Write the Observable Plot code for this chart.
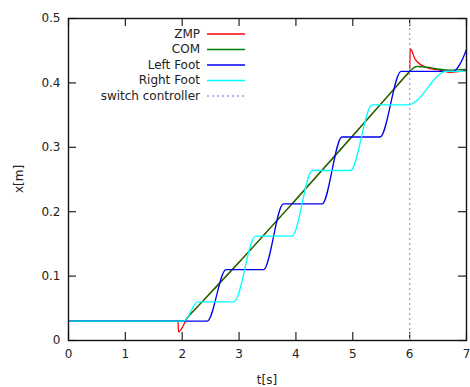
<!DOCTYPE html>
<html><head><meta charset="utf-8">
<script src="https://cdn.jsdelivr.net/npm/d3@7"></script>
<script src="https://cdn.jsdelivr.net/npm/@observablehq/plot@0.6"></script>
<style>body{margin:0;background:#fff}</style>
</head><body><div id="chart"></div>
<script>
// ---- data ----
const zmpT = [0, 1.925, 1.935, 2.1, 2.2, 3, 4, 5, 5.9, 6.0, 6.01, 6.1, 6.2, 6.35, 6.5, 6.7, 6.85, 7];
const zmpX = [0.03, 0.03, 0.0135, 0.0366, 0.046, 0.1215, 0.219, 0.318, 0.408, 0.418, 0.453, 0.436, 0.428, 0.4225, 0.4205, 0.4165, 0.4175, 0.42];
const comT = [0, 2.03, 2.1, 2.2, 3, 4, 5, 5.9, 6.0, 6.13, 6.3, 6.5, 6.7, 7];
const comX = [0.03, 0.03, 0.0366, 0.046, 0.1215, 0.219, 0.318, 0.408, 0.418, 0.4255, 0.4245, 0.4215, 0.4198, 0.421];
const leftT = [0, 2.44, 2.77, 3.43, 3.78, 4.46, 4.81, 5.48, 5.85, 6.77, 6.89, 7];
const leftX = [0.03, 0.03, 0.11, 0.11, 0.212, 0.212, 0.316, 0.316, 0.418, 0.418, 0.43, 0.452];
const rightT = [0, 2.03, 2.27, 2.91, 3.29, 3.93, 4.29, 4.96, 5.34, 5.98, 6.65, 7];
const rightX = [0.03, 0.03, 0.06, 0.06, 0.162, 0.162, 0.264, 0.264, 0.366, 0.366, 0.418, 0.418];
const switchT = [6];
const xTicks = [0, 1, 2, 3, 4, 5, 6, 7];
const yTicks = [0, 0.1, 0.2, 0.3, 0.4, 0.5];
const seriesNames = ["ZMP", "COM", "Left Foot", "Right Foot", "switch controller"];
const seriesColors = ["#ff0000", "#007a00", "#0000ee", "#00ffff", "#9a9aff"];

const toRows = (ts, xs) => ts.map((t, i) => ({t, x: xs[i]}));
const zmp = toRows(zmpT, zmpX), com = toRows(comT, comX);
const left = toRows(leftT, leftX), right = toRows(rightT, rightX);

const W = 470, H = 387, mL = 68, mR = 4, mT = 18, mB = 47;
const xTickLen = 7 * 8 / (W - mL - mR);   // 8px in data units
const yTickLen = 0.5 * 8 / (H - mT - mB);

const lineOpts = (c) => ({x: "t", y: "x", stroke: c, strokeWidth: 1.3, curve: "monotone-x"});

const svg = Plot.plot({
  width: W, height: H,
  marginLeft: mL, marginRight: mR, marginTop: mT, marginBottom: mB,
  style: {fontFamily: "DejaVu Sans", fontSize: "12px", background: "white", color: "#222"},
  x: {domain: [0, 7], ticks: xTicks, label: null},
  y: {domain: [0, 0.5], ticks: yTicks, label: null},
  marks: [
    Plot.axisX({ticks: xTicks, tickSize: 0, tickPadding: 9, tickFormat: d3.format("d"), fontSize: 12}),
    Plot.axisY({ticks: yTicks, tickSize: 0, tickPadding: 8, tickFormat: (d) => d === 0 ? "0" : d3.format(".1f")(d), fontSize: 12}),
    Plot.ruleX(xTicks, {x: d => d, y1: 0, y2: yTickLen, stroke: "#222", strokeWidth: 1.2}),
    Plot.ruleX(xTicks, {x: d => d, y1: 0.5 - yTickLen, y2: 0.5, stroke: "#222", strokeWidth: 1.2}),
    Plot.ruleY(yTicks, {y: d => d, x1: 0, x2: xTickLen, stroke: "#222", strokeWidth: 1.2}),
    Plot.ruleY(yTicks, {y: d => d, x1: 7 - xTickLen, x2: 7, stroke: "#222", strokeWidth: 1.2}),
    Plot.line(zmp, lineOpts(seriesColors[0])),
    Plot.line(com, lineOpts(seriesColors[1])),
    Plot.line(left, lineOpts(seriesColors[2])),
    Plot.line(right, lineOpts(seriesColors[3])),
    Plot.ruleX(switchT, {x: d => d, stroke: seriesColors[4], strokeWidth: 1.3, strokeDasharray: "2,3"}),
    Plot.frame({stroke: "#111", strokeWidth: 1.4})
  ]
});

// axis titles and gnuplot-style key
const s = d3.select(svg);
s.append("text").attr("x", (mL + W - mR) / 2).attr("y", 380).attr("text-anchor", "middle")
  .attr("dominant-baseline", "middle").attr("font-size", 12).attr("fill", "#222").text("t[s]");
s.append("text").attr("transform", `translate(19,${(mT + H - mB) / 2}) rotate(-90)`)
  .attr("text-anchor", "middle").attr("dominant-baseline", "middle").attr("font-size", 12)
  .attr("fill", "#222").text("x[m]");
const key = s.append("g");
seriesNames.forEach((name, i) => {
  const y = 34 + i * 15.5;
  key.append("text").attr("x", 200).attr("y", y).attr("text-anchor", "end")
    .attr("dominant-baseline", "middle").attr("font-size", 12).attr("fill", "#222").text(name);
  key.append("line").attr("x1", 207).attr("x2", 245).attr("y1", y).attr("y2", y)
    .attr("stroke", seriesColors[i]).attr("stroke-width", 1.3)
    .attr("stroke-dasharray", i === 4 ? "2,3" : null);
});
document.getElementById("chart").appendChild(svg);
</script>
</body></html>
